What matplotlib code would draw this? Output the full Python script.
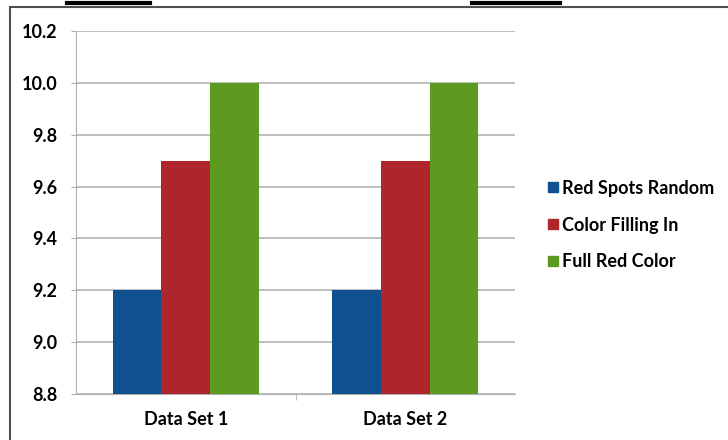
import matplotlib.pyplot as plt
import numpy as np
from matplotlib.patches import Rectangle
from matplotlib.lines import Line2D

categorias = ["Data Set 1", "Data Set 2"]
series = ["Red Spots Random", "Color Filling In", "Full Red Color"]
red_spots = [9.2, 9.2]
color_filling = [9.7, 9.7]
full_red = [10.0, 10.0]
cores = ["#11508f", "#ae262b", "#5c9a20"]
yticks = [8.8, 9.0, 9.2, 9.4, 9.6, 9.8, 10.0, 10.2]

plt.rcParams['font.family'] = ['Lato', 'DejaVu Sans']

fig = plt.figure(figsize=(7.28, 4.4), dpi=100)
ax = fig.add_axes([76 / 728, 1 - 394 / 440, (515 - 76) / 728, (394 - 31) / 440])

x = np.arange(len(categorias))
largura = 0.222
for i, (nome, valores) in enumerate(zip(series, [red_spots, color_filling, full_red])):
    ax.bar(x + (i - 1) * largura, np.array(valores) - 8.8, largura, bottom=8.8,
           color=cores[i], label=nome, zorder=3)

ax.set_xlim(-0.5, 1.5)
ax.set_ylim(8.8, 10.2)
ax.set_yticks(yticks)
ax.set_yticklabels([f"{v:.1f}" for v in yticks], fontsize=13, fontweight='bold')
ax.set_xticks(x)
ax.set_xticklabels(categorias, fontsize=13, fontweight='bold')
ax.tick_params(axis='y', length=3.5, color='#b0b0b0', pad=10)
ax.tick_params(axis='x', length=0, pad=12)
ax.set_xticks([0.5], minor=True)
ax.tick_params(axis='x', which='minor', length=4, color='#b0b0b0')
ax.grid(axis='y', color='#b4b4b4', linewidth=1.2, zorder=0)
for lado in ['top', 'right']:
    ax.spines[lado].set_visible(False)
ax.spines['left'].set_color('#b0b0b0')
ax.spines['bottom'].set_color('#b0b0b0')

# legenda com quadradinhos pequenos
handles = [Line2D([], [], marker='s', linestyle='', markersize=7, color=c) for c in cores]
fig.legend(handles, series, loc='center left', bbox_to_anchor=(538 / 728, 1 - 225 / 440),
           frameon=False, prop={'weight': 'bold', 'size': 13},
           handletextpad=0.15, labelspacing=1.1, handlelength=0.7, borderpad=0)

# moldura do gráfico
fig.add_artist(Rectangle((10 / 728, -0.05), 1.0, 1 - 7 / 440 + 0.05, transform=fig.transFigure,
                         fill=False, edgecolor='#505050', linewidth=1.5))
fig.add_artist(Line2D([67 / 728, 150 / 728], [1 - 3 / 440] * 2, transform=fig.transFigure,
                      color='black', linewidth=3))
fig.add_artist(Line2D([472 / 728, 560 / 728], [1 - 3 / 440] * 2, transform=fig.transFigure,
                      color='black', linewidth=3))

fig.savefig("out.png", dpi=100)
